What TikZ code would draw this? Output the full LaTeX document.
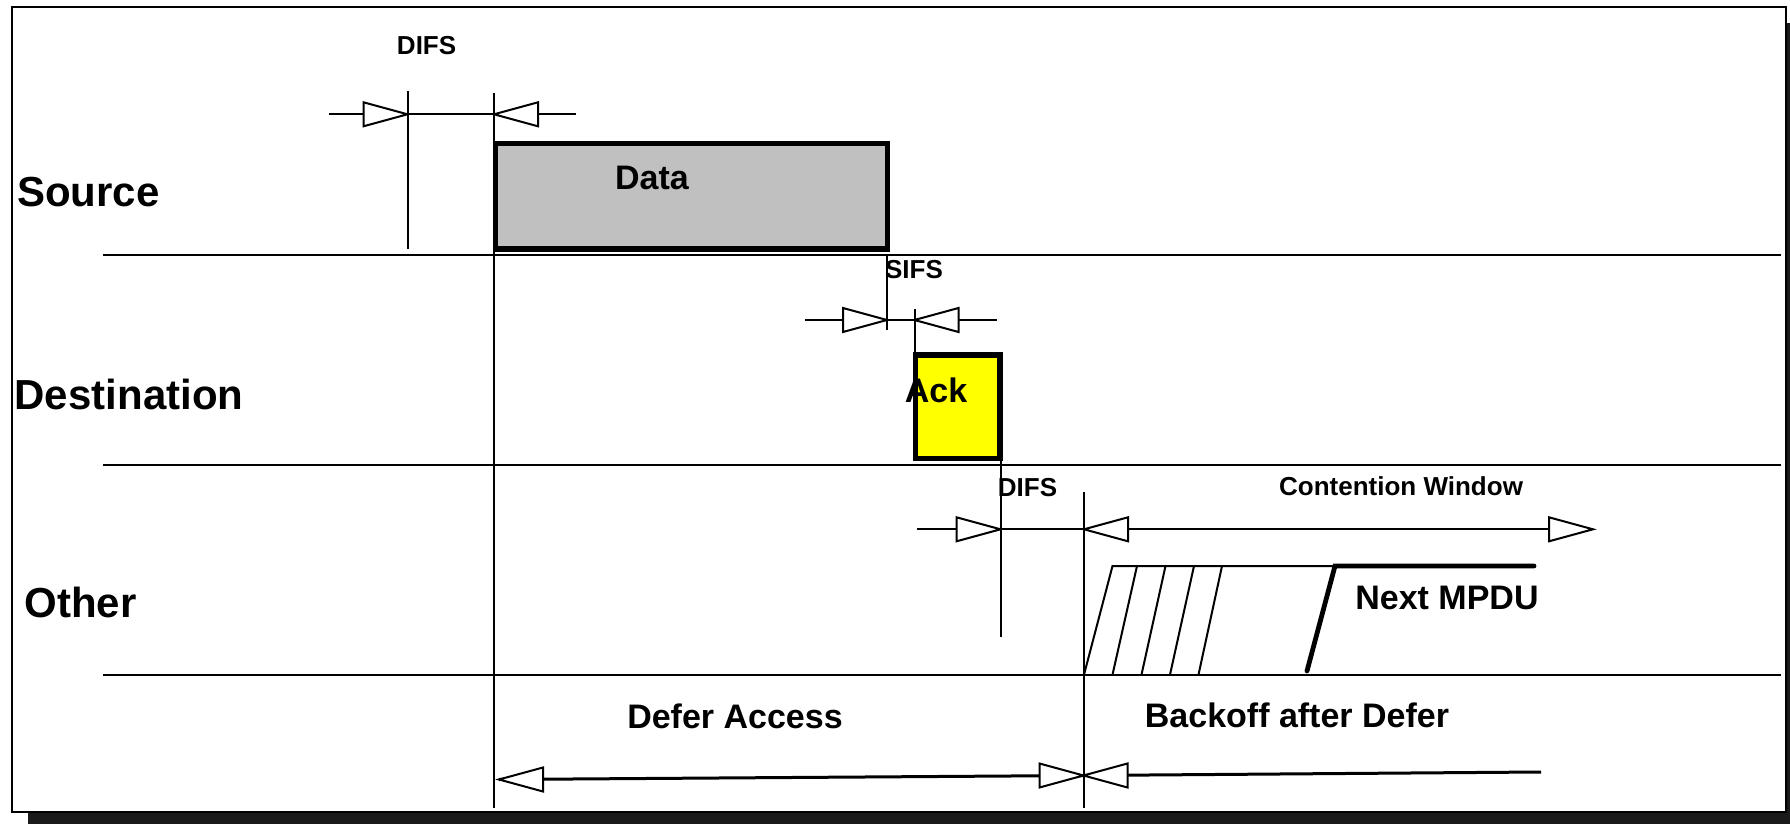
\documentclass[tikz,border=0pt]{standalone}
\usepackage{fontspec}
\setmainfont{Liberation Sans}
\definecolor{datagray}{HTML}{C0C0C0}
\definecolor{ackyellow}{HTML}{FFFF00}
\definecolor{shadowc}{HTML}{1A1A1A}
\tikzset{
  thinln/.style={line width=1pt},
  tri/.style={draw, line width=1pt, fill=white, line join=miter},
  pktbox/.style={draw, line width=2.7pt},
  thickln/.style={line width=2.4pt, line cap=round},
  lblbig/.style={font=\bfseries\fontsize{21}{21}\selectfont, inner sep=0pt},
  lblmid/.style={font=\bfseries\fontsize{17}{17}\selectfont, inner sep=0pt},
  lblsmall/.style={font=\bfseries\fontsize{13}{13}\selectfont, inner sep=0pt},
}
\newcommand\triR[1]{\draw[tri] (#1) -- ++(-44,-12) -- ++(0,24) -- cycle;}
\newcommand\triL[1]{\draw[tri] (#1) -- ++(44,-12) -- ++(0,24) -- cycle;}
\begin{document}
\begin{tikzpicture}[x=0.5pt,y=-0.5pt]
\useasboundingbox (0,0) rectangle (1790,824);
% frame with shadow
\fill[shadowc] (28,23) rectangle (1802,828);
\draw[line width=1.2pt, fill=white] (12,7) rectangle (1786,812);

% time axes
\coordinate (srcA) at (103,254.6);  \coordinate (srcB) at (1781,254.6);
\coordinate (dstA) at (103,464.6);  \coordinate (dstB) at (1781,464.6);
\coordinate (othA) at (103,674.7);  \coordinate (othB) at (1781,674.7);
\draw[thinln] (srcA) -- (srcB);
\draw[thinln] (dstA) -- (dstB);
\draw[thinln] (othA) -- (othB);

% station labels
\node[lblbig] (lsrc) at (88.5,191.7) {Source};
\node[lblbig] (ldst) at (129,394.2) {Destination};
\node[lblbig] (loth) at (80.5,602.5) {Other};

% long vertical lines
\coordinate (v1top) at (494,92.7);   \coordinate (v1bot) at (494,807.7);
\coordinate (v2top) at (1084,492.3); \coordinate (v2bot) at (1084,807.7);
\draw[thinln] (v1top) -- (v1bot);
\draw[thinln] (v2top) -- (v2bot);

% Data frame
\fill[datagray] (495.5,143.5) rectangle (887.2,249);
\draw[pktbox] (495.5,143.5) rectangle (887.2,249);
\node[lblmid] (tdata) at (652,177.8) {Data};

% DIFS (source)
\coordinate (d1tickT) at (407.5,91);  \coordinate (d1tickB) at (407.5,249);
\draw[thinln] (d1tickT) -- (d1tickB);
\coordinate (d1A) at (329,114.3); \coordinate (d1B) at (576,114.3);
\draw[thinln] (d1A) -- (d1B);
\coordinate (d1r) at (407.5,114.3); \coordinate (d1l) at (494,114.3);
\triR{d1r}
\triL{d1l}
\node[lblsmall] (tdifs1) at (426.6,45.8) {DIFS};

% SIFS
\coordinate (s1T) at (887,254.6); \coordinate (s1B) at (887,330);
\coordinate (s2T) at (914.5,309.3); \coordinate (s2B) at (914.5,354);
\draw[thinln] (s1T) -- (s1B);
\draw[thinln] (s2T) -- (s2B);
\coordinate (sA) at (805,320); \coordinate (sB) at (996.7,320);
\draw[thinln] (sA) -- (sB);
\coordinate (sr) at (887,320); \coordinate (sl) at (914.5,320);
\triR{sr}
\triL{sl}
\node[lblsmall] (tsifs) at (914,269.3) {SIFS};

% Ack frame
\fill[ackyellow] (915.3,354.8) rectangle (1000,458.5);
\draw[pktbox] (915.3,354.8) rectangle (1000,458.5);
\node[lblmid] (tack) at (936,390) {Ack};

% DIFS (other) + contention window
\coordinate (d2T) at (1000.5,459.3); \coordinate (d2B) at (1000.5,636.7);
\draw[thinln] (d2T) -- (d2B);
\coordinate (cwA) at (917,529.3); \coordinate (cwB) at (1548,529.3);
\draw[thinln] (cwA) -- (cwB);
\coordinate (d2r) at (1000.5,529.3); \coordinate (d2l) at (1084,529.3);
\coordinate (cwr) at (1593,529.3);
\triR{d2r}
\triL{d2l}
\triR{cwr}
\node[lblsmall] (tdifs2) at (1027.5,487.3) {DIFS};
\node[lblsmall] (tcw) at (1401,486.7) {Contention Window};

% backoff slots
\coordinate (b0) at (1084,674.7);
\coordinate (b0t) at (1112.5,566);
\coordinate (bend) at (1335,566);
\draw[thinln, line join=miter] (b0) -- (b0t) -- (bend);
\draw[thinln] (1112.5,674.7) -- (1137,566);
\draw[thinln] (1141.5,674.7) -- (1165.5,566);
\draw[thinln] (1170,674.7) -- (1194,566);
\draw[thinln] (1198.5,674.7) -- (1222,566);
\coordinate (nxA) at (1307,671); \coordinate (nxB) at (1534,566);
\draw[thickln, line join=miter] (nxA) -- (bend) -- (nxB);
\node[lblmid] (tnext) at (1447,598.3) {Next MPDU};

% bottom: defer access / backoff after defer
\coordinate (daL) at (499,779.5);
\coordinate (daR) at (1083.5,775.5);
\coordinate (baR) at (1541,772);
\draw[line width=1.5pt] (daL) -- (daR) -- (baR);
\triL{daL}
\triR{daR}
\triL{daR}
\node[lblmid] (tdefer) at (735,716.5) {Defer Access};
\node[lblmid] (tback) at (1297,715) {Backoff after Defer};
\end{tikzpicture}
\end{document}
